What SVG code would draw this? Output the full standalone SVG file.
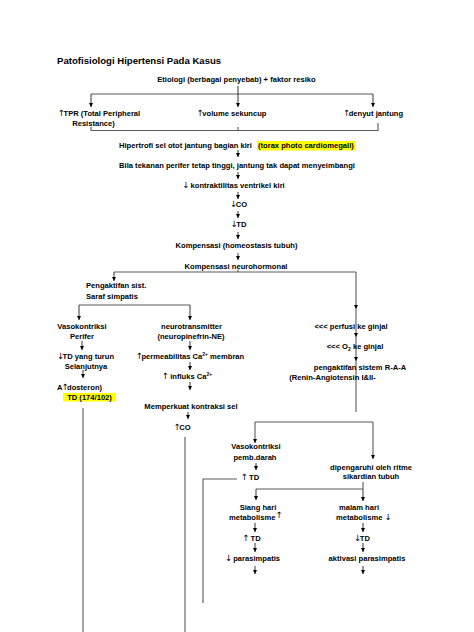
<svg xmlns="http://www.w3.org/2000/svg" width="474" height="632" viewBox="0 0 474 632">
<defs>
<marker id="ah" viewBox="0 0 6 6" refX="6" refY="3" markerWidth="4.5" markerHeight="4.5" markerUnits="userSpaceOnUse" orient="auto"><path d="M0,0 L6,3 L0,6 z" fill="#000"/></marker>
<style>
.t{font-family:"Liberation Sans",Arial,sans-serif;font-weight:bold;font-size:7.6px;fill:#000}
.m{text-anchor:middle}
.ttl{font-size:9.6px}
.ar{font-family:"DejaVu Sans",sans-serif;font-weight:normal;font-size:8.6px}
.c{fill:none;stroke:#5a5a5a;stroke-width:1.1}
.a{fill:none;stroke:#222;stroke-width:0.9;marker-end:url(#ah)}
.hl{fill:#ffff00}
.sup{font-size:5px}
</style>
</defs>
<rect width="474" height="632" fill="#fff"/>

<g id="connectors">
<path class="c" d="M91,94 H373"/>
<path class="a" d="M91,94 V107"/>
<path class="a" d="M238,86 V107"/>
<path class="a" d="M373,94 V107"/>
<path class="c" d="M91,127 V130.5 H378 V123 M238,127 V130.5"/>
<path class="a" d="M238,150 V157"/>
<path class="a" d="M238,172 V179"/>
<path class="a" d="M238,192 V199"/>
<path class="a" d="M238,211 V218"/>
<path class="a" d="M238,232 V239"/>
<path class="a" d="M238,253 V260"/>
<path class="c" d="M114,272 H356 M238,269.5 V272"/>
<path class="a" d="M114,272 V281"/>
<path class="c" d="M79,305 H190"/>
<path class="a" d="M79,305 V320"/>
<path class="a" d="M190,305 V320"/>
<path class="a" d="M82,341 V350"/>
<path class="a" d="M83,370 V378"/>
<path class="c" d="M83,408 V632"/>
<path class="a" d="M190,341 V350"/>
<path class="a" d="M190,362 V370"/>
<path class="a" d="M190,382 V390"/>
<path class="a" d="M188,412 V419"/>
<path class="c" d="M185,437 V632"/>
<path class="c" d="M356,272 V309" marker-end="url(#ah)"/>
<path class="c" d="M356,309 V337" marker-end="url(#ah)"/>
<path class="c" d="M356,337 V361" marker-end="url(#ah)"/>
<path class="c" d="M356,361 V412"/>
<path class="c" d="M255,422 H373"/>
<path class="c" d="M255,422 V443" marker-end="url(#ah)"/>
<path class="c" d="M373,422 V459" marker-end="url(#ah)"/>
<path class="a" d="M256,463 V470"/>
<path class="c" d="M237,479 H203 V603"/>
<path class="c" d="M256,489 H363 M363,482 V489"/>
<path class="a" d="M256,489 V500"/>
<path class="a" d="M363,489 V501"/>
<path class="a" d="M255,523 V532"/>
<path class="a" d="M255,543 V552"/>
<path class="a" d="M255,566 V574"/>
<path class="a" d="M363,523 V532"/>
<path class="a" d="M363,543 V552"/>
<path class="a" d="M363,566 V574"/>
</g>

<g id="title"><text class="t ttl" x="57" y="63.5">Patofisiologi Hipertensi Pada Kasus</text></g>
<g id="etiologi"><text class="t m" x="236.5" y="82">Etiologi (berbagai penyebab) + faktor resiko</text></g>
<g id="tpr"><text class="t m" x="99" y="115.5"><tspan class="ar">↑</tspan><tspan dx="-1.5">TPR (Total Peripheral</tspan></text><text class="t m" x="93.5" y="125.5">Resistance)</text></g>
<g id="volume"><text class="t m" x="231.5" y="116"><tspan class="ar">↑</tspan><tspan dx="-1.5">volume sekuncup</tspan></text></g>
<g id="denyut"><text class="t m" x="373" y="116"><tspan class="ar">↑</tspan><tspan dx="-1.5">denyut jantung</tspan></text></g>
<g id="hipertrofi">
<rect class="hl" x="257" y="141" width="99" height="9.5"/>
<text class="t" x="119" y="147.5">Hipertrofi sel otot jantung bagian kiri</text>
<text class="t" x="258" y="147.5">(torax photo cardiomegali)</text>
</g>
<g id="bila"><text class="t m" x="237" y="168">Bila tekanan perifer tetap tinggi, jantung tak dapat menyeimbangi</text></g>
<g id="kontraktilitas"><text class="t m" x="233.5" y="188"><tspan class="ar">↓</tspan><tspan dx="-1"> kontraktilitas ventrikel kiri</tspan></text></g>
<g id="co1"><text class="t m" x="238.5" y="207"><tspan class="ar">↓</tspan><tspan dx="-1.5">CO</tspan></text></g>
<g id="td1"><text class="t m" x="238.5" y="227"><tspan class="ar">↓</tspan><tspan dx="-1.5">TD</tspan></text></g>
<g id="kompensasi"><text class="t m" x="236.5" y="248">Kompensasi (homeostasis tubuh)</text></g>
<g id="neurohormonal"><text class="t m" x="236" y="268.5">Kompensasi neurohormonal</text></g>
<g id="simpatis"><text class="t" x="86" y="288">Pengaktifan sist.</text><text class="t" x="86" y="298.5">Saraf simpatis</text></g>
<g id="vasokontriksi1"><text class="t m" x="82" y="329">Vasokontriksi</text><text class="t m" x="82" y="339">Perifer</text></g>
<g id="tdturun"><text class="t m" x="85.5" y="359"><tspan class="ar">↓</tspan><tspan dx="-1.5">TD yang turun</tspan></text><text class="t m" x="86" y="369">Selanjutnya</text></g>
<g id="aldosteron"><text class="t m" x="79.5" y="390">A<tspan class="ar" dx="-1">↑</tspan><tspan dx="-1.5">dosteron)</tspan></text></g>
<g id="td174"><rect class="hl" x="63" y="393" width="53" height="8.5"/><text class="t m" x="89.5" y="400">TD (174/102)</text></g>
<g id="neurotransmitter"><text class="t m" x="191.5" y="329">neurotransmitter</text><text class="t m" x="191" y="339">(neuropinefrin-NE)</text></g>
<g id="permeabilitas"><text class="t m" x="190" y="359"><tspan class="ar">↑</tspan><tspan dx="-1.5">permeabilitas Ca</tspan><tspan class="sup" dy="-3">2+</tspan><tspan dy="3"> membran</tspan></text></g>
<g id="influks"><text class="t m" x="187" y="379"><tspan class="ar">↑</tspan><tspan dx="-1"> influks Ca</tspan><tspan class="sup" dy="-3">2+</tspan></text></g>
<g id="memperkuat"><text class="t m" x="191" y="409">Memperkuat kontraksi sel</text></g>
<g id="co2"><text class="t m" x="182" y="430"><tspan class="ar">↑</tspan><tspan dx="-1.5">CO</tspan></text></g>
<g id="perfusi"><text class="t m" x="351" y="329">&lt;&lt;&lt; perfusi ke ginjal</text></g>
<g id="o2"><text class="t m" x="355" y="349">&lt;&lt;&lt; O<tspan class="sup" dy="1.5">2</tspan><tspan dy="-1.5"> ke ginjal</tspan></text></g>
<g id="raa"><text class="t m" x="360" y="370">pengaktifan sistem R-A-A</text><text class="t m" x="332.5" y="380">(Renin-Angiotensin I&amp;II-</text></g>
<g id="vasokontriksi2"><text class="t m" x="256" y="449">Vasokontriksi</text><text class="t m" x="255" y="460">pemb.darah</text></g>
<g id="td2"><text class="t m" x="250" y="480"><tspan class="ar">↑</tspan><tspan dx="-1"> TD</tspan></text></g>
<g id="ritme"><text class="t m" x="371" y="470">dipengaruhi oleh ritme</text><text class="t m" x="371" y="479">sikardian tubuh</text></g>
<g id="siang"><text class="t m" x="258" y="510">Siang hari</text><text class="t" x="229" y="520">metabolisme<tspan class="ar" dy="-2">↑</tspan></text></g>
<g id="td3"><text class="t m" x="251.5" y="541"><tspan class="ar">↑</tspan><tspan dx="-1"> TD</tspan></text></g>
<g id="parasimpatis1"><text class="t m" x="252.5" y="561"><tspan class="ar">↓</tspan><tspan dx="-1"> parasimpatis</tspan></text></g>
<g id="malam"><text class="t m" x="359" y="510">malam hari</text><text class="t" x="336" y="520">metabolisme <tspan class="ar">↓</tspan></text></g>
<g id="td4"><text class="t m" x="362" y="541"><tspan class="ar">↓</tspan><tspan dx="-1.5">TD</tspan></text></g>
<g id="parasimpatis2"><text class="t m" x="367" y="561">aktivasi parasimpatis</text></g>
</svg>
